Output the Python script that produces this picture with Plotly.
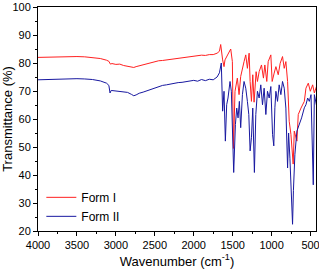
import plotly.graph_objects as go

# Form I (red)
wn_form1 = [4000, 3900, 3800, 3700, 3600, 3500, 3400, 3300, 3200, 3120, 3090, 3070, 3050, 3000,
            2950, 2900, 2850, 2800, 2770, 2740, 2700, 2650, 2600, 2550, 2500, 2450, 2400, 2350,
            2300, 2250, 2200, 2150, 2100, 2050, 2000, 1950, 1900, 1850, 1800, 1750, 1700, 1670,
            1654, 1629, 1611, 1599, 1568, 1525, 1504, 1490, 1470, 1440, 1418, 1397, 1354, 1332,
            1311, 1289, 1276, 1259, 1242, 1225, 1199, 1182, 1160, 1130, 1105, 1087, 1062, 1044,
            1010, 993, 967, 945, 915, 890, 860, 838, 817, 795, 774, 752, 723, 709, 675, 658,
            623, 580, 559, 529, 503, 473, 451, 417]
t_form1 = [82.0, 82.1, 82.2, 82.2, 82.3, 82.3, 82.2, 82.0, 81.6, 81.0, 80.6, 79.6, 79.8, 79.5,
           79.6, 79.1, 78.9, 78.6, 78.4, 78.7, 79.0, 79.2, 79.8, 80.1, 80.5, 80.8, 80.9, 81.1,
           81.3, 81.6, 81.8, 82.0, 82.1, 82.4, 82.5, 82.6, 82.8, 82.7, 83.0, 83.0, 83.5, 84.2,
           86.6, 81.1, 78.7, 81.1, 82.9, 85.0, 80.5, 49.5, 69.9, 74.6, 68.7, 75.2, 80.5, 82.9,
           78.1, 83.5, 73.4, 66.3, 75.8, 66.0, 76.9, 73.4, 76.9, 79.3, 74.6, 79.3, 73.4, 80.5,
           82.9, 73.4, 76.4, 78.7, 75.8, 79.9, 82.3, 78.1, 80.5, 73.4, 59.2, 54.5, 43.9, 55.7,
           52.1, 61.6, 63.9, 66.3, 71.0, 72.8, 69.9, 72.2, 69.3, 72.2]

# Form II (blue)
wn_form2 = [4000, 3900, 3800, 3700, 3600, 3500, 3400, 3300, 3200, 3120, 3090, 3075, 3060, 3000,
            2950, 2900, 2850, 2800, 2770, 2740, 2700, 2650, 2600, 2550, 2500, 2450, 2400, 2350,
            2300, 2250, 2200, 2150, 2100, 2050, 2000, 1950, 1900, 1850, 1800, 1750, 1700, 1670,
            1646, 1629, 1611, 1594, 1577, 1560, 1534, 1517, 1500, 1487, 1465, 1448, 1431, 1414,
            1397, 1375, 1354, 1332, 1311, 1293, 1276, 1259, 1242, 1221, 1203, 1182, 1160, 1139,
            1117, 1096, 1074, 1053, 1031, 1010, 988, 972, 958, 945, 924, 903, 881, 860, 838,
            817, 795, 782, 765, 752, 731, 720, 701, 675, 645, 615, 580, 559, 537, 516, 494,
            465, 451, 417]
t_form2 = [74.0, 74.1, 74.3, 74.4, 74.5, 74.4, 74.3, 74.1, 73.6, 72.8, 72.0, 69.3, 70.2, 70.0,
           70.1, 69.8, 69.5, 68.8, 68.3, 68.6, 69.2, 69.6, 70.1, 70.6, 71.2, 71.6, 72.0, 72.2,
           72.5, 72.8, 73.0, 73.1, 73.3, 73.5, 73.8, 73.5, 74.1, 73.7, 74.2, 74.0, 75.0, 76.5,
           80.0, 62.8, 69.9, 52.1, 65.1, 67.5, 73.4, 69.9, 53.3, 40.9, 58.0, 63.9, 60.4, 66.3,
           56.9, 68.7, 73.4, 71.0, 66.3, 61.6, 48.6, 53.3, 63.9, 40.9, 61.6, 69.9, 67.5, 72.2,
           65.1, 71.0, 61.6, 69.9, 67.5, 71.6, 54.5, 50.4, 64.0, 69.9, 66.3, 72.2, 68.7, 73.4, 71.0,
           63.9, 42.5, 55.0, 46.0, 36.8, 22.4, 34.4, 47.4, 55.7, 58.0, 60.4, 64.0, 65.1, 67.5, 66.3, 68.7,
           36.5, 68.7, 63.9]

x_ticks = [4000, 3500, 3000, 2500, 2000, 1500, 1000, 500]
y_ticks = [20, 30, 40, 50, 60, 70, 80, 90, 100]

fig = go.Figure()
fig.add_trace(go.Scatter(x=wn_form1, y=t_form1, mode="lines", name="Form I",
                         line=dict(color="#FF2020", width=1)))
fig.add_trace(go.Scatter(x=wn_form2, y=t_form2, mode="lines", name="Form II",
                         line=dict(color="#1818A0", width=1)))

axis_common = dict(showline=True, mirror=True, linecolor="#000000", linewidth=1,
                   ticks="outside", ticklen=4, tickwidth=1, tickcolor="#000000",
                   showgrid=False, zeroline=False, ticklabeloverflow="allow",
                   tickfont=dict(family="Liberation Sans, Arial", size=11, color="#000000"))

fig.update_layout(
    width=319, height=269,
    margin=dict(l=38, r=3, t=7, b=38),
    paper_bgcolor="white", plot_bgcolor="white",
    font=dict(family="Liberation Sans, Arial", size=11, color="#000000"),
    showlegend=True,
    legend=dict(x=0.012, y=0.215, xanchor="left", yanchor="top",
                bgcolor="rgba(0,0,0,0)", font=dict(size=12),
                tracegroupgap=0, itemwidth=30),
    xaxis=dict(range=[4000, 430], tickvals=x_ticks,
               minor=dict(ticks="outside", ticklen=2, dtick=250, tick0=0, tickcolor="#000000"),
               title=dict(text="Wavenumber (cm<sup>-1</sup>)", font=dict(size=13), standoff=6),
               automargin=False, **axis_common),
    yaxis=dict(range=[20, 100], tickvals=y_ticks,
               minor=dict(ticks="outside", ticklen=2, dtick=5, tickcolor="#000000"),
               title=dict(text="Transmittance (%)", font=dict(size=13), standoff=4),
               automargin=False, **axis_common),
)

fig.write_html("out.html")
